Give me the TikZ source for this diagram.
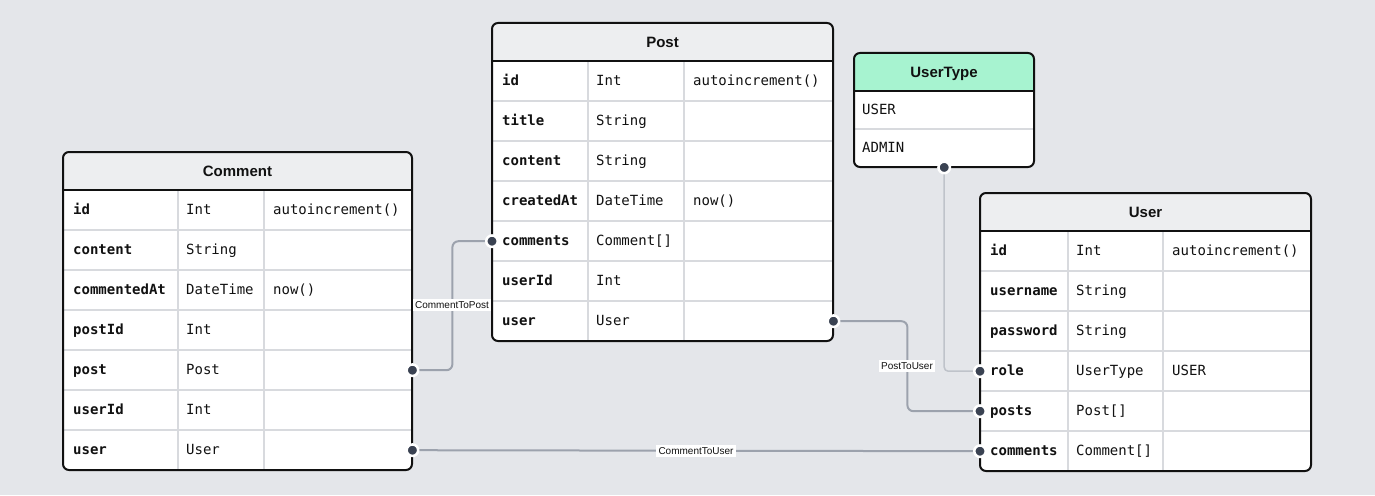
\documentclass[tikz,border=0pt]{standalone}
\usepackage{fontspec}
\setmainfont{Liberation Sans}
\setsansfont{Liberation Sans}
\setmonofont{DejaVu Sans Mono}
\usetikzlibrary{calc}
\definecolor{bgc}{HTML}{E4E6EA}
\definecolor{hdrc}{HTML}{EDEEF0}
\definecolor{enumc}{HTML}{A7F3D0}
\definecolor{gridc}{HTML}{D8DADE}
\definecolor{relc}{HTML}{9CA2AD}
\definecolor{rellight}{HTML}{BFC3CA}
\definecolor{dotc}{HTML}{3A4252}
\definecolor{inkc}{HTML}{111111}
\tikzset{
  hdrtext/.style={font=\fontsize{15}{17}\selectfont\bfseries, inner sep=0, anchor=base, text=inkc},
  fname/.style={font=\fontsize{14}{16}\selectfont\ttfamily\bfseries, inner sep=0, anchor=base west, text=inkc},
  ftype/.style={font=\fontsize{14}{16}\selectfont\ttfamily, inner sep=0, anchor=base west, text=inkc},
  rowbox/.style={rectangle, inner sep=0, minimum height=40pt, anchor=north west},
  tblbox/.style={rectangle, inner sep=0, anchor=north west},
  border/.style={draw=inkc, line width=2pt, rounded corners=6pt},
  rel/.style={draw=relc, line width=2pt, rounded corners=6pt},
  rellt/.style={draw=rellight, line width=1.5pt, rounded corners=4pt},
  lbl/.style={fill=white, font=\fontsize{10}{12}\selectfont, inner sep=2.5pt, text=inkc},
  dot/.style={circle, fill=dotc, draw=white, line width=2.5pt, minimum size=11.5pt, inner sep=0},
}
% #1 id, #2 left, #3 top, #4 right, #5 div1, #6 div2, #7 title, #8 number of rows, #9 rows
\newcommand\ertable[9]{%
  \pgfmathsetmacro\hb{#3+38}%
  \pgfmathsetmacro\bt{\hb+40*#8}%
  \pgfmathsetmacro\tw{#4-#2}%
  \pgfmathsetmacro\th{\bt-#3}%
  \pgfmathsetmacro\cx{(#2+#4)/2}%
  \node[tblbox, minimum width=\tw pt, minimum height=\th pt] (#1) at (#2,#3) {};
  \begin{scope}
    \clip[rounded corners=6pt] (#2,#3) rectangle (#4,\bt);
    \fill[white] (#2,#3) rectangle (#4,\bt);
    \fill[hdrc] (#2,#3) rectangle (#4,\hb);
    \foreach[count=\i] \a/\b/\c in {#9} {
      \pgfmathsetmacro\ry{\hb+40*(\i-1)}
      \node[rowbox, minimum width=\tw pt] (#1-\a) at (#2,\ry) {};
      \ifnum\i<#8 \draw[gridc, line width=2pt] (#2,\ry+40) -- (#4,\ry+40); \fi
    }
    \draw[gridc, line width=2pt] (#5,\hb) -- (#5,\bt) (#6,\hb) -- (#6,\bt);
    \foreach[count=\i] \a/\b/\c in {#9} {
      \pgfmathsetmacro\ry{\hb+40*(\i-1)}
      \node[fname] (#1-\a-n) at (#2+10,\ry+24.5) {\a};
      \node[ftype] (#1-\a-t) at (#5+8,\ry+24.5) {\b};
      \node[ftype] (#1-\a-d) at (#6+9,\ry+24.5) {\c};
    }
  \end{scope}
  \draw[inkc, line width=2pt] (#2,\hb) -- (#4,\hb);
  \draw[border] (#2,#3) rectangle (#4,\bt);
  \node[hdrtext] (#1-title) at (\cx,#3+24.5) {#7};
}
\begin{document}
\begin{tikzpicture}[x=1pt, y=-1pt]
  \fill[bgc] (0,0) rectangle (1375,495);
  \useasboundingbox (0,0) rectangle (1375,495);

  \ertable{Post}{492}{23}{833}{588}{684}{Post}{7}{id/Int/{autoincrement()}, title/String/{}, content/String/{}, createdAt/DateTime/{now()}, comments/Comment[]/{}, userId/Int/{}, user/User/{}}

  \ertable{Comment}{63}{152}{412}{178}{264}{Comment}{7}{id/Int/{autoincrement()}, content/String/{}, commentedAt/DateTime/{now()}, postId/Int/{}, post/Post/{}, userId/Int/{}, user/User/{}}

  \ertable{User}{980}{193}{1311}{1068}{1163}{User}{6}{id/Int/{autoincrement()}, username/String/{}, password/String/{}, role/UserType/{USER}, posts/Post[]/{}, comments/Comment[]/{}}

  % UserType enum
  \node[tblbox, minimum width=180pt, minimum height=114pt] (UserType) at (854,53) {};
  \begin{scope}
    \clip[rounded corners=6pt] (854,53) rectangle (1034,167);
    \fill[white] (854,53) rectangle (1034,167);
    \fill[enumc] (854,53) rectangle (1034,91);
    \draw[gridc, line width=2pt] (854,129) -- (1034,129);
  \end{scope}
  \draw[inkc, line width=2pt] (854,91) -- (1034,91);
  \draw[border] (854,53) rectangle (1034,167);
  \node[hdrtext] (UserType-title) at (944,77.5) {UserType};
  \node[ftype] (UserType-USER) at (862,114.5) {USER};
  \node[ftype] (UserType-ADMIN) at (862,152.5) {ADMIN};

  % relations
  \draw[rellt] (UserType.south) |- (User-role.west);
  \draw[rel] (Comment-post.east) -- ++(40,0) |- (Post-comments.west);
  \draw[rel] (Post-user.east) -- ++(74,0) |- (User-posts.west);
  \draw[rel] (Comment-user.east) -- (User-comments.west);

  \node[lbl] (lblCP) at (452,305) {CommentToPost};
  \node[lbl] (lblPU) at (907,366) {PostToUser};
  \node[lbl] (lblCU) at (696,451) {CommentToUser};

  \node[dot] (d1) at (Comment-post.east) {};
  \node[dot] (d2) at (Post-comments.west) {};
  \node[dot] (d3) at (Post-user.east) {};
  \node[dot] (d4) at (User-posts.west) {};
  \node[dot] (d5) at (Comment-user.east) {};
  \node[dot] (d6) at (User-comments.west) {};
  \node[dot] (d7) at (UserType.south) {};
  \node[dot] (d8) at (User-role.west) {};
\end{tikzpicture}
\end{document}
